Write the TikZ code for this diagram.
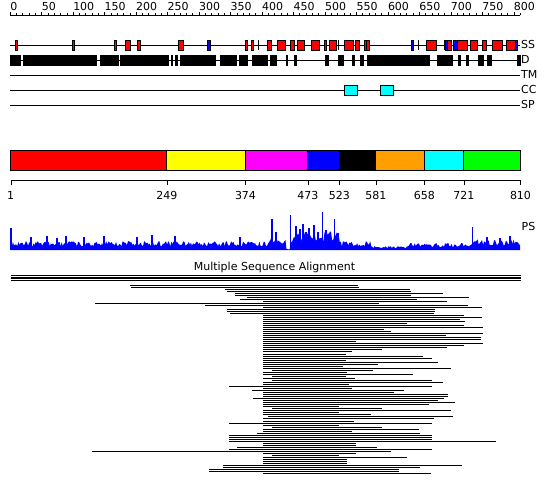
\documentclass[tikz,border=0pt]{standalone}
\usepackage{fontspec}
\setmainfont{DejaVu Sans}
\usetikzlibrary{positioning}

\definecolor{domred}{RGB}{255,0,0}
\definecolor{domyellow}{RGB}{255,255,0}
\definecolor{dommagenta}{RGB}{255,0,255}
\definecolor{domblue}{RGB}{0,0,255}
\definecolor{domorange}{RGB}{255,160,0}
\definecolor{domcyan}{RGB}{0,255,255}
\definecolor{domgreen}{RGB}{0,255,0}

\begin{document}
\begin{tikzpicture}[x=1pt, y=-1pt, font=\fontsize{11}{13}\selectfont,
	declare function={psenv(\t)=ifthenelse(\t<268,9,ifthenelse(\t<286,13,ifthenelse(\t<290,1.2,ifthenelse(\t<340,19,ifthenelse(\t<372,9,ifthenelse(\t<408,4,ifthenelse(\t<472,7,11)))))));}]
	\tikzstyle{lbl} = [inner sep=0pt, anchor=base west]
	\tikzstyle{num} = [inner sep=0pt, anchor=base]
	\tikzstyle{track} = [line width=0.9pt]
	\tikzstyle{helix} = [draw=black, line width=0.8pt, fill=domred]
	\tikzstyle{strand} = [draw=black, line width=0.8pt, fill=domblue]
	\tikzstyle{coil} = [draw=black, line width=0.8pt, fill=domcyan]
	\tikzstyle{aln} = [line width=1pt]

	\useasboundingbox (0,0) rectangle (550,495);
	\fill[white] (0,0) rectangle (550,495);
	\pgfmathsetseed{4242}

%----------ruler------------------------------
	\draw[track] (10.1,15) -- (520,15);
	\foreach \r in {0,10,...,810}
		\draw (10.1+0.6295*\r,15) -- ++(0,-1.8);
	\foreach \r in {0,50,...,800} {
		\draw (10.1+0.6295*\r,15) -- ++(0,-3.4);
		\node[lbl] (r\r) at (10.1+0.6295*\r,11) {\r};
	}

%----------tracks------------------------------
	\draw[track] (10,45) -- (520,45);
	\draw[track] (10,60) -- (520,60);
	\draw[track] (10,75) -- (520,75);
	\draw[track] (10,90) -- (520,90);
	\draw[track] (10,105) -- (520,105);

	\node[lbl] (ss) at (521,49) {SS};
	\node[lbl] (d) at (521,64) {D};
	\node[lbl] (tm) at (521,79) {TM};
	\node[lbl] (cc) at (521,94) {CC};
	\node[lbl] (sp) at (521,109) {SP};

	% secondary structure
	\foreach \a/\b in {15/17.3, 72.7/74.7, 114.3/116.3, 125.3/130, 137.7/140,
		178.3/183.7, 245.3/247.7, 251/253.7, 267.3/271.7, 277.3/285, 290.7/294.3,
		297.7/304.3, 311.7/319, 324.3/326.5, 329.3/336, 344.3/353, 355.5/359.3,
		364.2/366.7, 366.7/369.2, 426.5/436.5, 447.3/451, 457.5/467.5,
		470.3/477.7, 482.5/486.8, 492.3/502.5, 506.5/515}
		\draw[helix] (\a,40) rectangle (\b,50.5);
	\foreach \a/\b in {207.7/210.7, 411/413, 445.5/447.3, 453.5/457.5, 515/517}
		\draw[strand] (\a,40) rectangle (\b,50.5);
	\foreach \a in {258.5, 338.3, 418.8, 444.3}
		\fill (\a-0.6,40) rectangle (\a+0.6,50.5);

	% disorder
	\foreach \a/\b in {10/20.7, 22.7/96.7, 100/118.7, 120/169.3, 170.7/173.3,
		175.3/178.3, 180/215.7, 220/236.7, 239/247.7, 252.3/267.7, 270/276.7,
		285.7/288.3, 294/297.3, 325/329.3, 338.3/344.3, 352.3/355.3, 359.7/364.3,
		366.7/430, 437.3/453.3, 457.7/460.7, 466/469, 478.3/484, 487.3/491.7,
		517.3/520.7}
		\fill (\a,55) rectangle (\b,65.7);

	% coiled coil
	\draw[coil] (344.3,85) rectangle (357.3,95.5);
	\draw[coil] (380.3,85) rectangle (393.3,95.5);

%----------domains------------------------------
	\foreach \a/\b/\c in {10.7/166.8/domred, 166.8/245.5/domyellow,
		245.5/307.8/dommagenta, 307.8/339.3/domblue, 339.3/375.8/black,
		375.8/424.3/domorange, 424.3/463.9/domcyan, 463.9/520.5/domgreen}
		\draw[line width=0.9pt, fill=\c] (\a,150.3) rectangle (\b,170.5);

	\draw[track] (10.7,180.7) -- (520.5,180.7);
	\foreach \x/\n in {10.7/1, 166.8/249, 245.5/374, 307.8/473, 339.3/523,
		375.8/581, 424.3/658, 463.9/721, 520.5/810} {
		\draw (\x,180.7) -- ++(0,4.3);
		\node[num] (b\n) at (\x,200) {\n};
	}

%----------PS------------------------------
	\fill[domblue] (10.7,250) -- plot[domain=10.7:520, samples=470]
		(\x,{250-psenv(\x)*(0.4+0.6*rnd)}) -- (520,250) -- cycle;
	\foreach \x/\y in {11/227.7, 31/237, 47/236, 57/238, 66/236, 84/237, 104/236,
		137/237, 152/235, 175/236, 240/237, 272/219, 276/232, 290.3/215, 296/226,
		300/229, 303/224, 306/232, 309/228, 314/225, 318/232, 322.3/212, 326/230,
		334.3/219, 338/233, 472.7/227.3, 487/237, 500/238, 510/236}
		\draw[domblue, line width=1.1pt] (\x,250) -- (\x,\y);
	\node[lbl] (ps) at (521.5,230) {PS};

%----------alignment------------------------------
	\node[num] (msa) at (274.5,270) {Multiple Sequence Alignment};

	\foreach \y in {275.7,277.1,278.5,279.9}
		\draw[line width=0.8pt] (10.5,\y) -- (520.7,\y);

	\foreach \a/\b [count=\k from 0] in {130/358, 131/359, 225/410, 227/410.7,
		235/443, 235/411, 247/469, 240/416.7, 263/446.7, 95/379, 205/467.7,
		263/481.7, 227/435, 227/435, 230/434, 263/464, 263/481.7, 263/460,
		263/465, 263/406.7, 263/464, 263/483.3, 263/384.3, 263/391, 263/483.3,
		263/446, 263/480.7, 263/480.7, 263/356, 263/483.3, 263/464, 263/447.3,
		263/381.7, 263/351.7, 263/346, 263/423.3, 263/431.7, 263/346, 263/437.7,
		263/377.7, 263/343.3, 263/450.7, 271.7/373.3, 263/346.7, 263/413.3,
		271.7/345.7, 263/355, 271.7/431.7, 263/443.3, 263/349.3, 229.3/432.3,
		263/351.7, 251.7/404.3, 263/394.3, 263/448.3, 263/448.3, 253.3/444.3,
		263/438.3, 263/455.3, 263/429.3, 263/339.3, 271.7/382.3, 263/450.7,
		263/339.3, 263/370.7, 267.7/453.3, 263/434.3, 263/354.3, 229.3/432.3,
		263/339.3, 271.7/382.3, 263/419.3, 263/352.3, 256.7/420.3, 229.3/432.3,
		229.3/432.3, 229.3/432.3, 229.3/496, 263/355.7, 263/356.3, 237.3/377.3,
		229.3/432.3, 91.7/391.3, 263/356.3, 271.7/339.3, 263/407.3, 263/346.7,
		263/346.7, 263/346.7, 222.7/462.3, 222.7/420.3, 209.3/399.3,
		209.3/399.3, 263/431.3}
		\draw[aln] (\a,{285+2.03*\k}) -- (\b,{285+2.03*\k});

\end{tikzpicture}
\end{document}
